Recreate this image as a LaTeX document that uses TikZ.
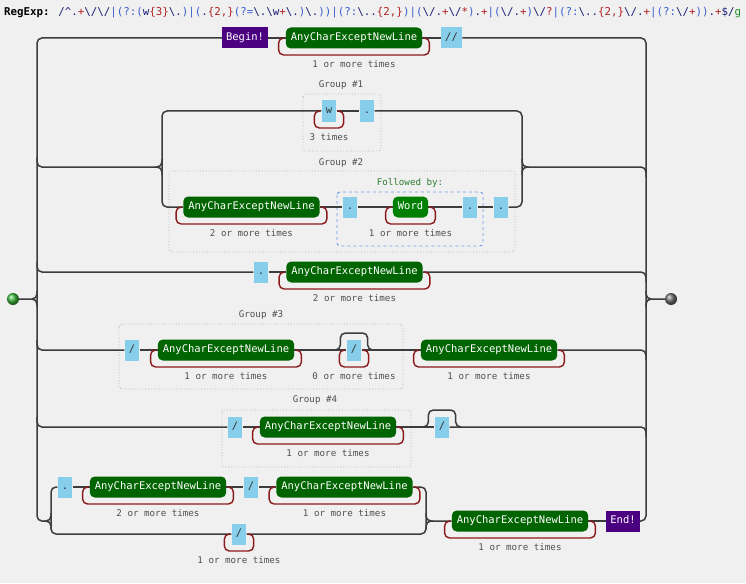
\documentclass[tikz,border=0pt]{standalone}
\usepackage{fontspec}
\newfontfamily\mono{DejaVu Sans Mono}
\usetikzlibrary{calc}
\definecolor{bgc}{HTML}{F0F0F0}
\definecolor{lnc}{HTML}{3C3C3C}
\definecolor{loopc}{HTML}{8B1A1A}
\definecolor{grn}{HTML}{006400}
\definecolor{wgrn}{HTML}{008000}
\definecolor{purp}{HTML}{4B0082}
\definecolor{skyb}{HTML}{87CEEB}
\definecolor{grayt}{HTML}{505050}
\definecolor{grpb}{HTML}{B4B4B4}
\definecolor{lab}{HTML}{6F9BE8}
\definecolor{fol}{HTML}{2E7D32}
\definecolor{rxC}{HTML}{1E1E78}
\definecolor{rxQ}{HTML}{B22222}
\definecolor{rxG}{HTML}{3A5FCD}
\definecolor{rxF}{HTML}{228B22}
\definecolor{stc}{HTML}{3DBB3D}
\definecolor{enc}{HTML}{707070}
\newcommand\rxc[1]{\textcolor{rxC}{#1}}
\newcommand\rxq[1]{\textcolor{rxQ}{#1}}
\newcommand\rxg[1]{\textcolor{rxG}{#1}}
\newcommand\bs{\textbackslash}
\tikzset{
 ln/.style={draw=lnc, line width=1.5pt, rounded corners=5},
 lp/.style={draw=loopc, line width=1.4pt, rounded corners=5},
 anyc/.style={fill=grn, text=white, rounded corners=5, minimum height=21, inner xsep=5, inner ysep=0, text height=8, text depth=2.5, font=\mono\fontsize{10.5}{12}\selectfont},
 wordn/.style={anyc, fill=wgrn},
 chr/.style={fill=skyb, text=black!80, minimum height=21, inner xsep=4.3, inner ysep=0, text height=8, text depth=2.5, font=\mono\fontsize{10.5}{12}\selectfont},
 term/.style={fill=purp, text=white, minimum height=21, inner xsep=4, inner ysep=0, text height=8, text depth=2.5, font=\mono\fontsize{10.5}{12}\selectfont},
 cnt/.style={text=grayt, font=\mono\fontsize{9.2}{11}\selectfont, inner sep=0},
 grpbox/.style={draw=grpb, dotted, line width=0.8pt, rounded corners=3},
}
\newcommand\mkloop[2]{%
 \draw[lp] ($(#1.west)+(-1,0)$) -- ($(#1.west)+(-7,0)$) -- ($(#1.west)+(-7,17)$) -- ($(#1.east)+(7,17)$) -- ($(#1.east)+(7,0)$) -- ($(#1.east)+(1,0)$);
 \node[cnt] (#1-lab) at ($(#1)+(0,26)$) {#2};}
\newcommand\mkbyp[1]{%
 \draw[ln] ($(#1.west)+(-12,0)$) -- ($(#1.west)+(-6,0)$) -- ($(#1.west)+(-6,-17)$) -- ($(#1.east)+(6,-17)$) -- ($(#1.east)+(6,0)$) -- ($(#1.east)+(12,0)$);}
\begin{document}
\begin{tikzpicture}[x=1pt,y=-1pt]
\fill[bgc] (0,0) rectangle (746,583);
\useasboundingbox (0,0) rectangle (746,583);
\node[anchor=west, inner sep=0, font=\mono\fontsize{10.8}{13}\selectfont] (title) at (4,13)
 {\textbf{RegExp:} \rxc{/\textasciicircum.}\rxq{+}\rxc{\bs/\bs/}\rxg{|(?:(}\rxc{w}\rxq{\{3\}}\rxc{\bs.}\rxg{)|(}\rxc{.}\rxq{\{2,\}}\rxg{(?=}\rxc{\bs.\bs w}\rxq{+}\rxc{\bs.}\rxg{)}\rxc{\bs.}\rxg{))|(?:}\rxc{\bs..}\rxq{\{2,\}}\rxg{)|(}\rxc{\bs/.}\rxq{+}\rxc{\bs/}\rxq{*}\rxg{)}\rxc{.}\rxq{+}\rxg{|(}\rxc{\bs/.}\rxq{+}\rxg{)}\rxc{\bs/}\rxq{?}\rxg{|(?:}\rxc{\bs..}\rxq{\{2,\}}\rxc{\bs/.}\rxq{+}\rxg{|(?:}\rxc{\bs/}\rxq{+}\rxg{))}\rxc{.}\rxq{+}\rxc{\$/}\textcolor{rxF}{g}};
% group boxes
\draw[grpbox] (303,94) rectangle (381,151);
\node[cnt] (g1l) at (341,85) {Group \#1};
\draw[grpbox] (169,171) rectangle (515,252);
\node[cnt] (g2l) at (341,163) {Group \#2};
\draw[draw=lab, dashed, line width=0.9pt, rounded corners=3] (337,192) rectangle (483,246);
\node[cnt, text=fol] (fb) at (410,183) {Followed by:};
\draw[grpbox] (119,324) rectangle (403,389);
\node[cnt] (g3l) at (261,315) {Group \#3};
\draw[grpbox] (222,410) rectangle (411,467);
\node[cnt] (g4l) at (315,400) {Group \#4};
% nodes
\node[term] (begin) at (245,38) {Begin!};
\node[anyc] (a1) at (354,38) {AnyCharExceptNewLine};
\node[chr] (s1) at (451.5,38) {//};
\node[chr] (w) at (329,111) {w};
\node[chr] (d1) at (367,111) {.};
\node[anyc] (a2) at (251.5,207) {AnyCharExceptNewLine};
\node[chr] (d2) at (350,207) {.};
\node[wordn] (word) at (410.5,207) {Word};
\node[chr] (d3) at (470,207) {.};
\node[chr] (d4) at (501,207) {.};
\node[chr] (d5) at (261,272) {.};
\node[anyc] (a3) at (354.5,272) {AnyCharExceptNewLine};
\node[chr] (s2) at (132,350) {/};
\node[anyc] (a4) at (226,350) {AnyCharExceptNewLine};
\node[chr] (s3) at (354,350) {/};
\node[anyc] (a5) at (489,350) {AnyCharExceptNewLine};
\node[chr] (s4) at (235,427) {/};
\node[anyc] (a6) at (328,427) {AnyCharExceptNewLine};
\node[chr] (s5) at (442,427) {/};
\node[chr] (d6) at (65,487) {.};
\node[anyc] (a7) at (158,487) {AnyCharExceptNewLine};
\node[chr] (s6) at (251,487) {/};
\node[anyc] (a8) at (344.5,487) {AnyCharExceptNewLine};
\node[chr] (s7) at (239,534) {/};
\node[anyc] (a9) at (520,521) {AnyCharExceptNewLine};
\node[term] (endn) at (623,521) {End!};
\node[circle, minimum size=12, inner sep=0, ball color=stc] (st) at (13,299) {};
\node[circle, minimum size=12, inner sep=0, ball color=enc] (en) at (671,299) {};
% junction coordinates
\coordinate (jL2) at (162,167);
\coordinate (jR2) at (522,167);
\coordinate (lbot) at (51,521);
\coordinate (rbot) at (426,521);
% main rails
\draw[ln] (begin.west) -- (37,38) -- (37,521) -- (lbot) -- (51,513);
\draw[ln] (44,521) -- (lbot) -- (51,529);
\draw[ln] (s1.east) -- (646,38) -- (646,521) -- (endn.east);
\draw[ln] (st.east) -- (37,299) -- (37,291);
\draw[ln] (32,299) -- (37,299) -- (37,307);
\draw[ln] (en.west) -- (646,299) -- (646,291);
\draw[ln] (651,299) -- (646,299) -- (646,307);
% row 1
\draw[ln] (begin) -- (a1);
\draw[ln] (a1) -- (s1);
% groups 1 / 2
\draw[ln] (37,157) |- (jL2) -- (162,159);
\draw[ln] (155,167) -- (jL2) -- (162,175);
\draw[ln] (w.west) -- (162,111) -- (162,207) -- (a2.west);
\draw[ln] (d1.east) -- (522,111) -- (522,207) -- (d4.east);
\draw[ln] (522,159) -- (jR2) -- (646,167) -- (646,177);
\draw[ln] (522,175) -- (jR2) -- (529,167);
\draw[ln] (w) -- (d1);
\draw[ln] (a2) -- (d2);
\draw[ln] (d2) -- (word);
\draw[ln] (word) -- (d3);
\draw[ln] (d3) -- (d4);
% row 3
\draw[ln] (37,262) |- (d5.west);
\draw[ln] (d5) -- (a3);
\draw[ln] (a3.east) -- (646,272) -- (646,282);
% group 3 row
\draw[ln] (37,340) |- (s2.west);
\draw[ln] (s2) -- (a4);
\draw[ln] (a4) -- (s3);
\draw[ln] (s3) -- (a5);
\draw[ln] (a5.east) -- (646,350) -- (646,360);
\mkbyp{s3}
% group 4 row
\draw[ln] (37,417) |- (s4.west);
\draw[ln] (s4) -- (a6);
\draw[ln] (a6) -- (s5);
\draw[ln] (s5.east) -- (646,427) -- (646,437);
\mkbyp{s5}
% bottom rows
\draw[ln] (d6.west) -- (51,487) -- (51,534) -- (s7.west);
\draw[ln] (d6) -- (a7);
\draw[ln] (a7) -- (s6);
\draw[ln] (s6) -- (a8);
\draw[ln] (a8.east) -- (426,487) -- (426,534) -- (s7.east);
\draw[ln] (426,513) -- (rbot) -- (a9.west);
\draw[ln] (426,529) -- (rbot) -- (433,521);
\draw[ln] (a9) -- (endn);
% loops
\mkloop{a1}{1 or more times}
\mkloop{w}{3 times}
\mkloop{a2}{2 or more times}
\mkloop{word}{1 or more times}
\mkloop{a3}{2 or more times}
\mkloop{a4}{1 or more times}
\mkloop{s3}{0 or more times}
\mkloop{a5}{1 or more times}
\mkloop{a6}{1 or more times}
\mkloop{a7}{2 or more times}
\mkloop{a8}{1 or more times}
\mkloop{s7}{1 or more times}
\mkloop{a9}{1 or more times}
\end{tikzpicture}
\end{document}
